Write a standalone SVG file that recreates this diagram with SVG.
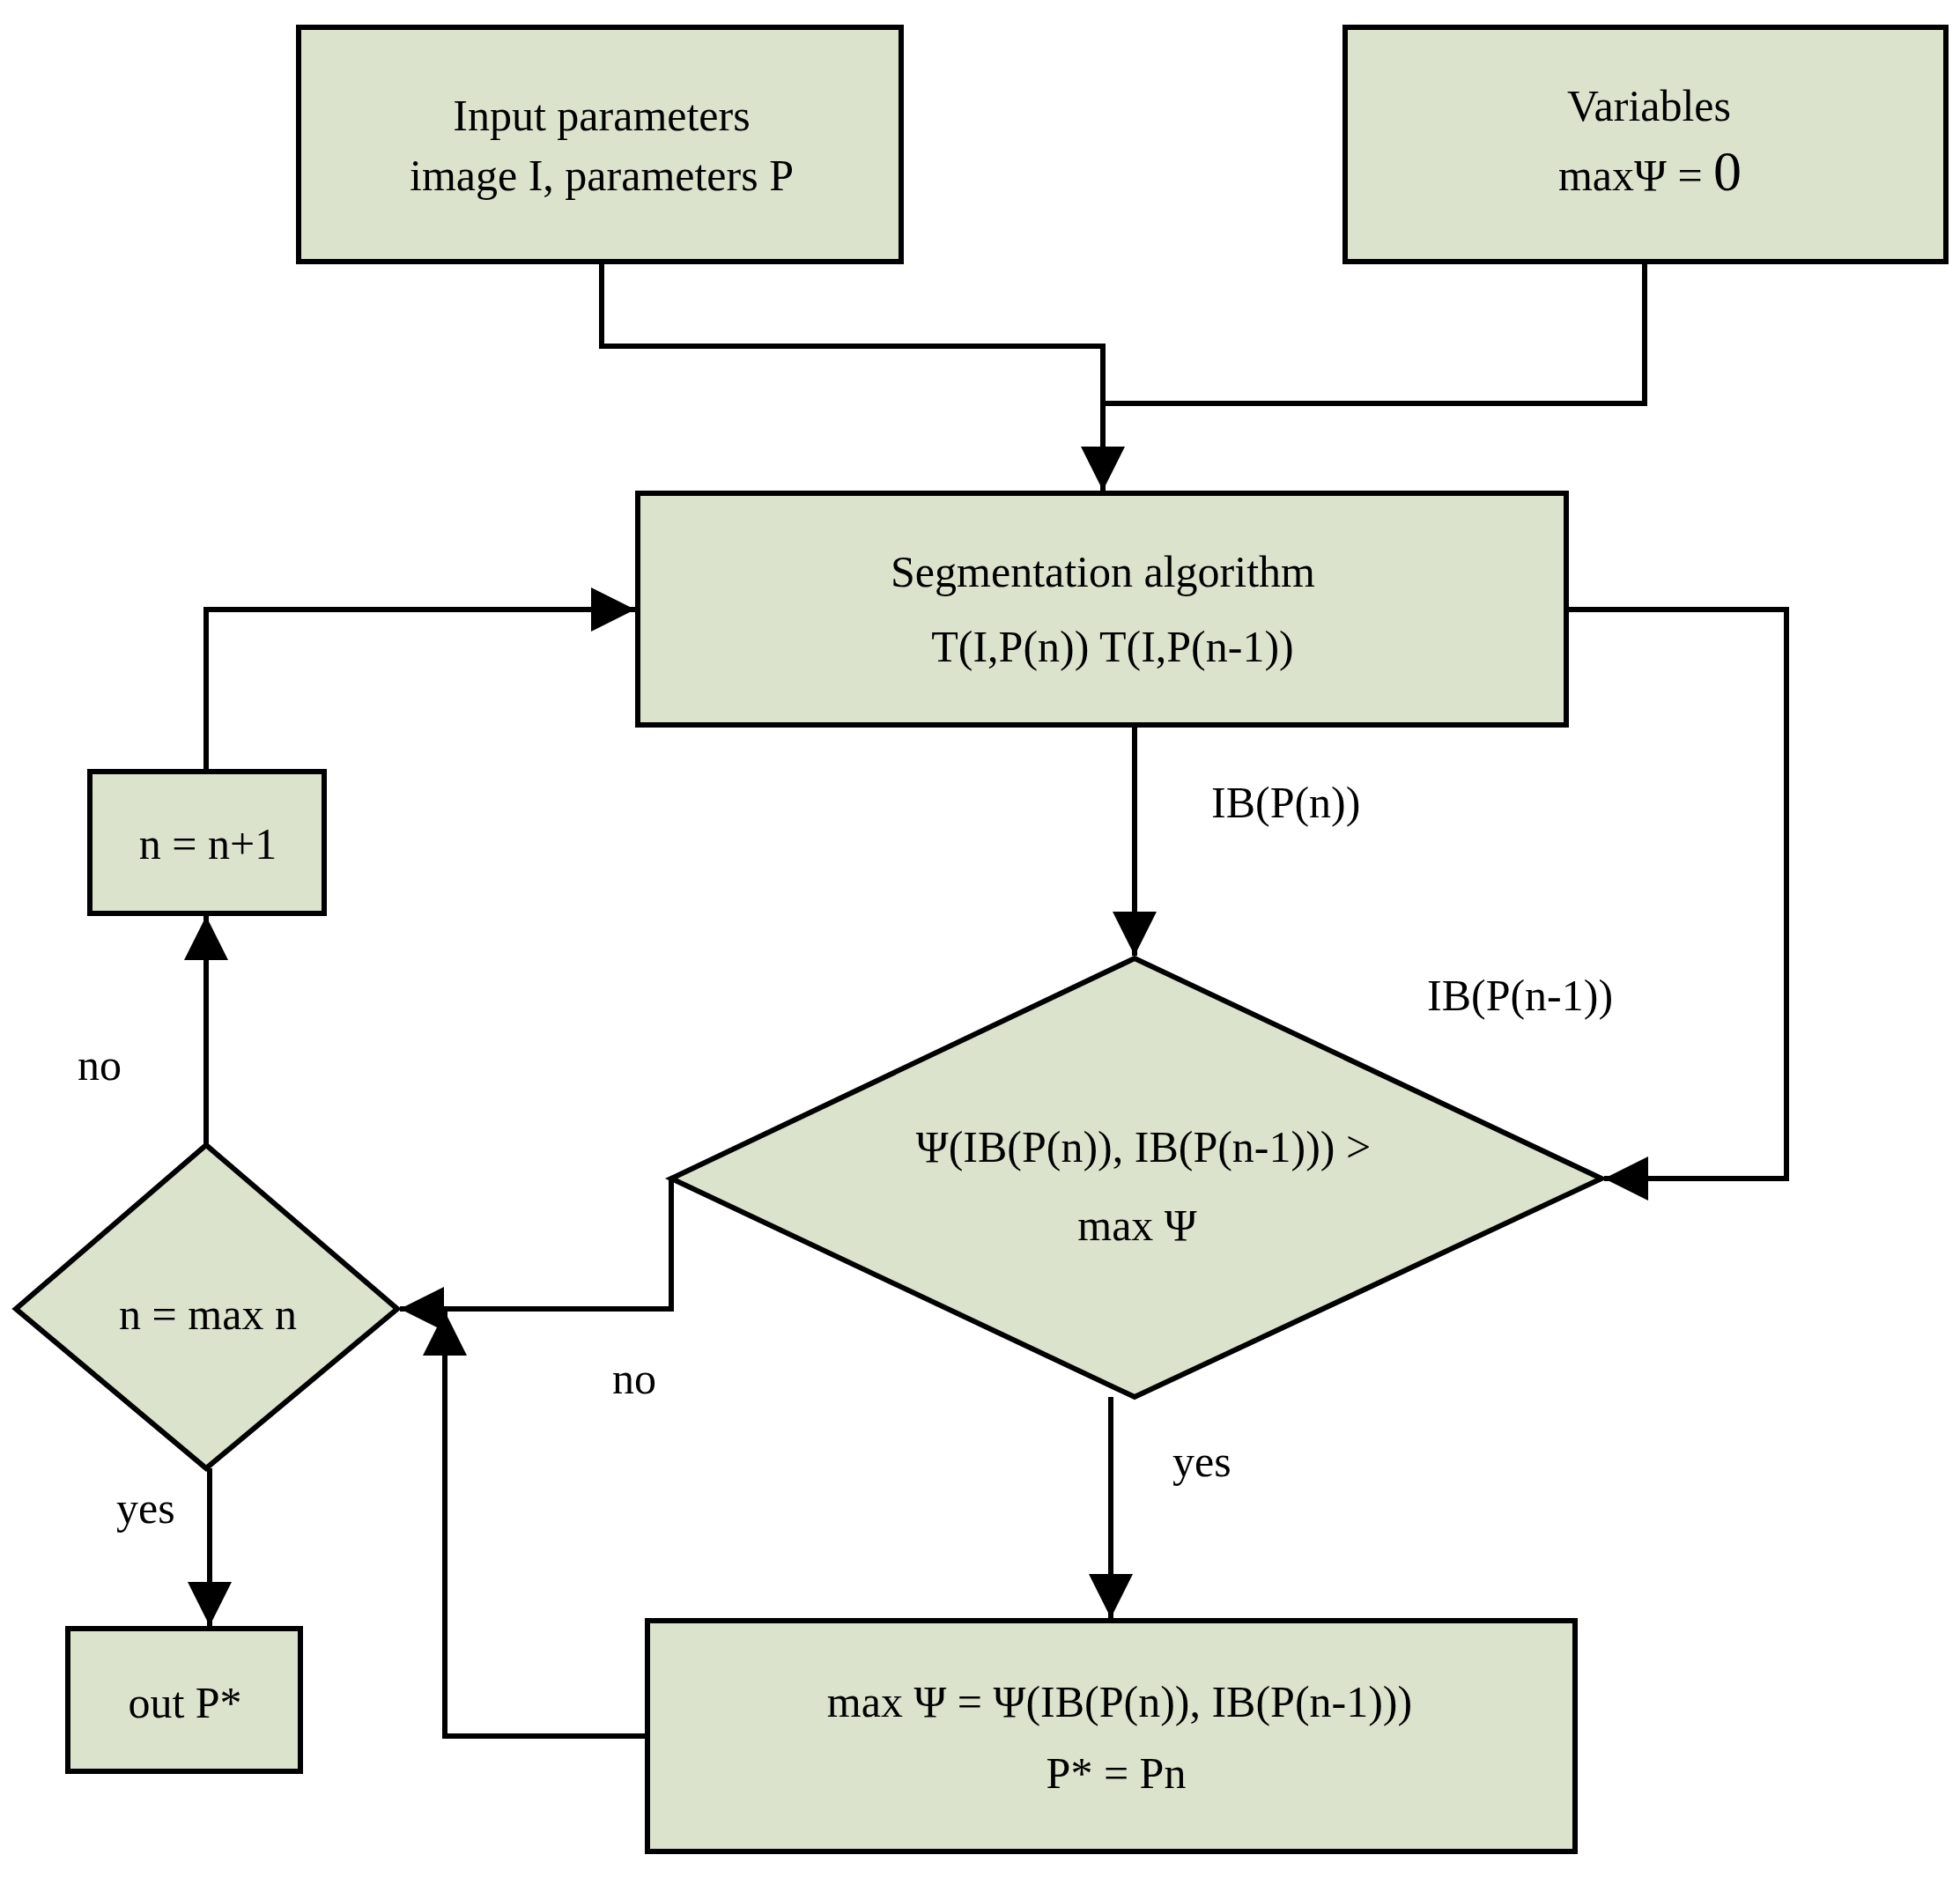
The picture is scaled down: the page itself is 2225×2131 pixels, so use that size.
<svg xmlns="http://www.w3.org/2000/svg" width="2225" height="2131" viewBox="0 0 2225 2131">
<style>
.n{fill:#dce3cc;stroke:#000;stroke-width:6}
.c{fill:none;stroke:#000;stroke-width:6}
text{font-family:"Liberation Serif",serif;font-size:50px;fill:#000}
.m{text-anchor:middle}
</style>
<defs>
<marker id="a" markerUnits="userSpaceOnUse" markerWidth="52" markerHeight="50" refX="50" refY="25" orient="auto"><path d="M0,0L50,25L0,50Z" fill="#000"/></marker>
</defs>
<rect width="2225" height="2131" fill="#fff"/>
<g id="input"><rect class="n" x="339" y="31" width="684" height="266"/><text class="m" x="683" y="148">Input parameters</text><text class="m" x="683" y="216">image I, parameters P</text></g>
<g id="variables"><rect class="n" x="1527" y="31" width="682" height="266"/><text class="m" x="1872" y="137">Variables</text><text class="m" x="1873" y="216">maxΨ = <tspan font-size="64">0</tspan></text></g>
<g id="seg"><rect class="n" x="724" y="560" width="1054" height="263"/><text class="m" x="1252" y="666">Segmentation algorithm</text><text class="m" x="1263" y="751">T(I,P(n))  T(I,P(n-1))</text></g>
<g id="inc"><rect class="n" x="102" y="876" width="266" height="161"/><text class="m" x="236" y="975">n = n+1</text></g>
<g id="out"><rect class="n" x="77" y="1849" width="264" height="162"/><text class="m" x="210" y="1950">out P*</text></g>
<g id="upd"><rect class="n" x="735" y="1840" width="1053" height="262"/><text class="m" x="1271" y="1949">max Ψ  =  Ψ(IB(P(n)), IB(P(n-1)))</text><text class="m" x="1267" y="2030">P* = Pn</text></g>
<g id="cmp"><polygon class="n" points="762,1338 1288,1088 1818,1338 1288,1586"/><text class="m" x="1298" y="1319">Ψ(IB(P(n)), IB(P(n-1)))  &gt;</text><text class="m" x="1291" y="1408">max Ψ</text></g>
<g id="chk"><polygon class="n" points="18,1486 234,1300 451,1486 234,1667"/><text class="m" x="236" y="1509">n = max n</text></g>
<g id="connectors">
<path class="c" d="M683,297V393H1252V557" marker-end="url(#a)"/>
<path class="c" d="M1867,297V458H1252"/>
<path class="c" d="M1288,823V1085" marker-end="url(#a)"/>
<path class="c" d="M1778,692H2028V1338H1821" marker-end="url(#a)"/>
<path class="c" d="M762,1338V1486H454" marker-end="url(#a)"/>
<path class="c" d="M1261,1586V1837" marker-end="url(#a)"/>
<path class="c" d="M735,1971H505V1489" marker-end="url(#a)"/>
<path class="c" d="M234,1300V1040" marker-end="url(#a)"/>
<path class="c" d="M234,876V692H721" marker-end="url(#a)"/>
<path class="c" d="M238,1667V1846" marker-end="url(#a)"/>
</g>
<text x="1375" y="928">IB(P(n))</text>
<text x="1620" y="1147">IB(P(n-1))</text>
<text x="88" y="1226">no</text>
<text x="695" y="1582">no</text>
<text x="1331" y="1676">yes</text>
<text x="132" y="1729">yes</text>
</svg>
